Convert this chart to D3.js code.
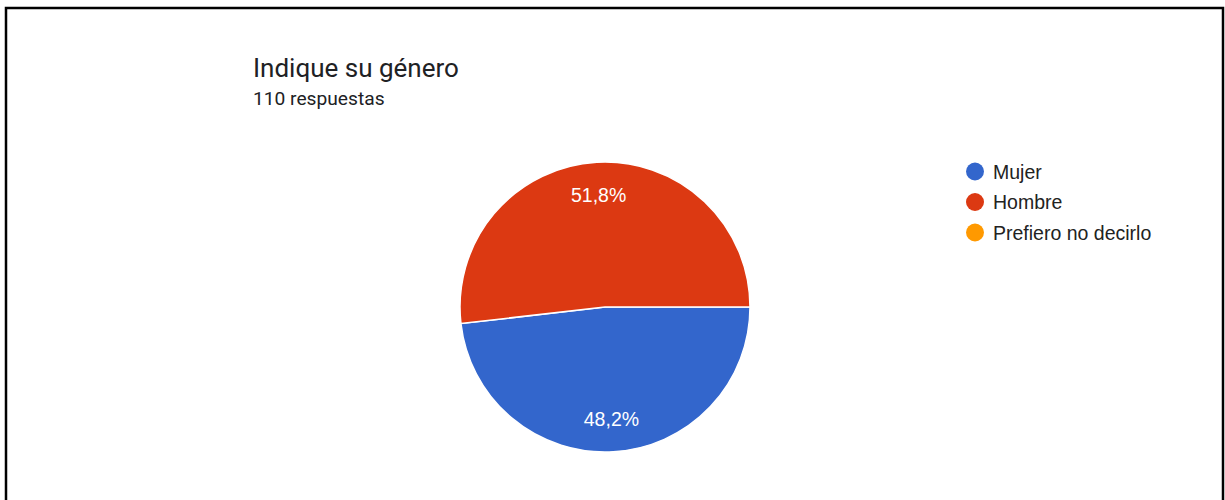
<!DOCTYPE html>
<html>
<head>
<meta charset="utf-8">
<script src="https://cdn.jsdelivr.net/npm/d3@7"></script>
<style>
  html, body { margin: 0; padding: 0; background: #fff; }
  svg { display: block; }
</style>
</head>
<body>
<svg id="chart" width="1225" height="500"></svg>
<script>
// Survey answers: gender question
const categories = ["Mujer", "Hombre", "Prefiero no decirlo"];
const counts = [53, 57, 0];
const percentLabels = ["48,2%", "51,8%", ""];
const colors = ["#3366cc", "#dc3912", "#ff9900"];
const titleText = "Indique su género";
const subtitleText = "110 respuestas";

const svg = d3.select("#chart");
const W = 1225, H = 500;

svg.append("rect").attr("width", W).attr("height", H).attr("fill", "#fff");

// frame: left, top and right edges
svg.append("path")
  .attr("d", `M6,${H} V8 H1223 V${H}`)
  .attr("fill", "none")
  .attr("stroke", "#000")
  .attr("stroke-width", 2.5);

// heading
svg.append("text")
  .attr("x", 253).attr("y", 77)
  .attr("font-family", "Roboto, 'Noto Sans', sans-serif")
  .attr("font-size", 26)
  .attr("fill", "#202124")
  .text(titleText);

svg.append("text")
  .attr("x", 253).attr("y", 105)
  .attr("font-family", "Roboto, 'Noto Sans', sans-serif")
  .attr("font-size", 19.2)
  .attr("fill", "#202124")
  .text(subtitleText);

// pie, starting at 3 o'clock and running clockwise
const cx = 605, cy = 307, R = 145;
const data = categories.map((c, i) => ({ name: c, value: counts[i], label: percentLabels[i], color: colors[i] }));

const pie = d3.pie()
  .value(d => d.value)
  .sort(null)
  .startAngle(Math.PI / 2)
  .endAngle(Math.PI / 2 + 2 * Math.PI);

const arcs = pie(data);
const arc = d3.arc().innerRadius(0).outerRadius(R);
const labelArc = d3.arc().innerRadius(R * 0.775).outerRadius(R * 0.775);

const g = svg.append("g").attr("transform", `translate(${cx},${cy})`);

g.selectAll("path.slice")
  .data(arcs.filter(a => a.data.value > 0))
  .join("path")
  .attr("class", "slice")
  .attr("d", arc)
  .attr("fill", d => d.data.color)
  .attr("stroke", "#fff")
  .attr("stroke-width", 1.5);

g.selectAll("text.pct")
  .data(arcs.filter(a => a.data.value > 0))
  .join("text")
  .attr("class", "pct")
  .attr("transform", d => `translate(${labelArc.centroid(d)})`)
  .attr("text-anchor", "middle")
  .attr("dy", "0.36em")
  .attr("font-family", "'Liberation Sans', Arial, sans-serif")
  .attr("font-size", 19.5)
  .attr("fill", "#fff")
  .text(d => d.data.label);

// legend
const legend = svg.append("g").attr("transform", "translate(975,171.5)");
const rows = legend.selectAll("g")
  .data(data)
  .join("g")
  .attr("transform", (d, i) => `translate(0,${i * 30.5})`);

rows.append("circle")
  .attr("r", 9)
  .attr("fill", d => d.color);

rows.append("text")
  .attr("x", 18)
  .attr("dy", "0.36em")
  .attr("font-family", "'Liberation Sans', Arial, sans-serif")
  .attr("font-size", 19.5)
  .attr("fill", "#222")
  .text(d => d.name);
</script>
</body>
</html>
